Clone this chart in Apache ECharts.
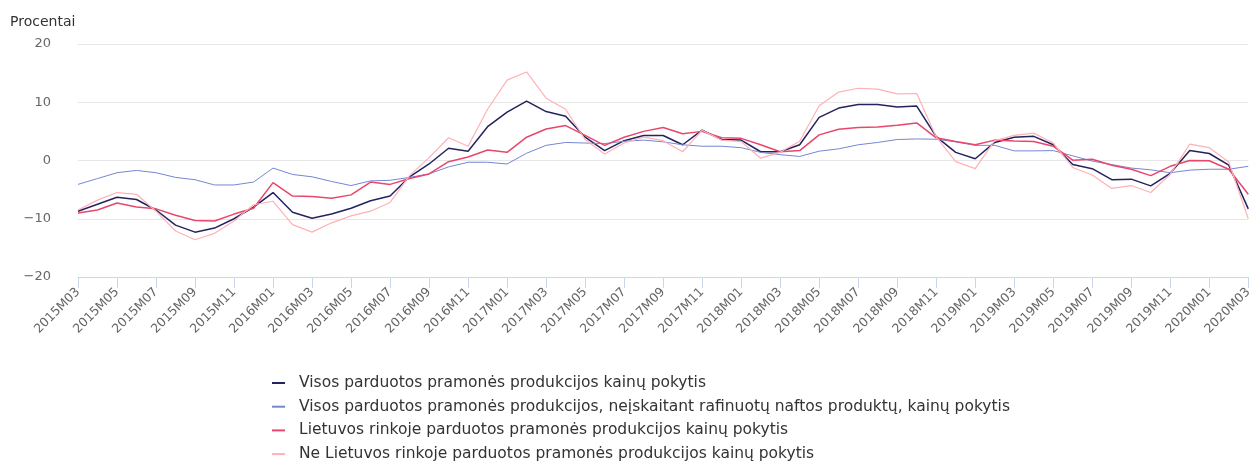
<!DOCTYPE html>
<html>
<head>
<meta charset="utf-8">
<script src="https://cdn.jsdelivr.net/npm/echarts@6/dist/echarts.min.js"></script>
<style>
  html, body { margin: 0; padding: 0; background: #fff; }
  #chart { width: 1255px; height: 461px; }
</style>
</head>
<body>
<div id="chart"></div>
<script>
const months = []
for (let y = 2015; y <= 2020; y++) {
  for (let m = 1; m <= 12; m++) {
    if ((y === 2015 && m < 3) || (y === 2020 && m > 3)) continue
    months.push(y + 'M' + (m < 10 ? '0' + m : m))
  }
}

const yTicks = [-20, -10, 0, 10, 20]

const visos = [
  -8.7, -7.5, -6.3, -6.7, -8.5, -11.1, -12.3, -11.6, -10.0, -8.0,
  -5.5, -8.9, -9.9, -9.2, -8.2, -6.9, -6.1, -2.8, -0.6, 2.1,
  1.6, 5.8, 8.3, 10.2, 8.4, 7.6, 4.0, 1.7, 3.4, 4.3,
  4.3, 2.7, 5.2, 3.6, 3.5, 1.5, 1.5, 2.7, 7.4, 9.0,
  9.6, 9.6, 9.2, 9.35, 4.1, 1.4, 0.3, 3.1, 4.0, 4.15,
  2.7, -0.7, -1.4, -3.3, -3.2, -4.35, -2.2, 1.7, 1.2, -0.8,
  -8.3
]

const beNaftos = [
  -4.1, -3.1, -2.1, -1.7, -2.1, -2.9, -3.3, -4.2, -4.2, -3.7,
  -1.3, -2.4, -2.8, -3.6, -4.3, -3.5, -3.4, -2.9, -2.3, -1.1,
  -0.3, -0.3, -0.6, 1.25, 2.6, 3.1, 3.0, 2.9, 3.3, 3.5,
  3.2, 2.7, 2.45, 2.45, 2.2, 1.4, 1.0, 0.7, 1.6, 2.0,
  2.7, 3.1, 3.6, 3.7, 3.65, 3.2, 2.6, 2.6, 1.65, 1.65,
  1.7, 0.8, -0.1, -0.7, -1.3, -1.6, -2.1, -1.65, -1.5, -1.5,
  -1.0
]

const lietuvos = [
  -9.0, -8.5, -7.3, -8.0, -8.3, -9.4, -10.3, -10.4, -9.2, -8.2,
  -3.8, -6.1, -6.2, -6.5, -5.9, -3.7, -4.1, -3.1, -2.3, -0.2,
  0.6, 1.8, 1.4, 4.0, 5.4, 6.0, 4.3, 2.6, 4.0, 5.0,
  5.65, 4.6, 5.0, 3.9, 3.8, 2.7, 1.5, 1.7, 4.4, 5.35,
  5.65, 5.75, 6.05, 6.45, 3.9, 3.25, 2.7, 3.5, 3.35, 3.25,
  2.45, 0.05, 0.2, -0.8, -1.5, -2.6, -1.0, 0.0, -0.05, -1.5,
  -5.8
]

const neLietuvos = [
  -8.5, -6.8, -5.5, -5.8, -8.7, -12.1, -13.6, -12.5, -10.4, -7.6,
  -7.0, -11.0, -12.3, -10.7, -9.5, -8.7, -7.2, -2.6, 0.5, 3.9,
  2.45, 8.8, 13.8, 15.2, 10.7, 8.8, 3.6, 1.1, 3.0, 4.0,
  3.4, 1.5, 5.2, 3.5, 3.25, 0.4, 1.4, 3.3, 9.4, 11.75,
  12.4, 12.25, 11.45, 11.5, 4.05, -0.2, -1.4, 3.4, 4.3, 4.7,
  3.0, -1.2, -2.5, -4.8, -4.3, -5.5, -2.35, 2.8, 2.2, -0.25,
  -10.0
]

const seriesNames = [
  'Visos parduotos pramonės produkcijos kainų pokytis',
  'Visos parduotos pramonės produkcijos, neįskaitant rafinuotų naftos produktų, kainų pokytis',
  'Lietuvos rinkoje parduotos pramonės produkcijos kainų pokytis',
  'Ne Lietuvos rinkoje parduotos pramonės produkcijos kainų pokytis'
]
const seriesData = [visos, beNaftos, lietuvos, neLietuvos]
const colors = ['#24235f', '#7487d2', '#e8476b', '#ffb1b6']
const widths = [1.5, 1, 1.5, 1.2]

const FONT = 'DejaVu Sans'

const chart = echarts.init(document.getElementById('chart'))

const option = {
  animation: false,
  textStyle: { fontFamily: FONT },
  title: {
    text: 'Procentai',
    left: 5,
    top: 10,
    textStyle: { fontSize: 14, fontWeight: 'normal', color: '#333', fontFamily: FONT }
  },
  grid: {
    left: 78,
    right: 2,
    top: 44,
    bottom: 184
  },
  legend: {
    orient: 'vertical',
    left: 267,
    top: 370,
    height: 300,
    itemGap: 7.7,
    itemWidth: 13,
    itemHeight: 2,
    icon: 'rect',
    textStyle: { fontSize: 15.5, color: '#333', fontFamily: FONT, padding: [0, 0, 0, 9] },
    data: seriesNames
  },
  xAxis: {
    type: 'category',
    boundaryGap: false,
    data: months,
    axisLine: { onZero: false, lineStyle: { color: '#ccd6eb' } },
    axisTick: { show: true, interval: 1, length: 11, lineStyle: { color: '#ccd6eb' } },
    axisLabel: {
      interval: 1,
      rotate: 45,
      fontSize: 12.5,
      color: '#666',
      margin: 13,
      fontFamily: FONT
    },
    splitLine: { show: false }
  },
  yAxis: {
    type: 'value',
    min: yTicks[0],
    max: yTicks[yTicks.length - 1],
    interval: 10,
    axisLine: { show: false },
    axisTick: { show: false },
    axisLabel: {
      fontSize: 13,
      color: '#666',
      margin: 27,
      fontFamily: FONT,
      formatter: v => String(v).replace('-', '\u2212')
    },
    splitLine: { lineStyle: { color: '#e6e6e6' } }
  },
  series: seriesNames.map((name, i) => ({
    name: name,
    type: 'line',
    data: seriesData[i],
    symbol: 'none',
    color: colors[i],
    lineStyle: { width: widths[i], color: colors[i] }
  }))
}

chart.setOption(option)
</script>
</body>
</html>
